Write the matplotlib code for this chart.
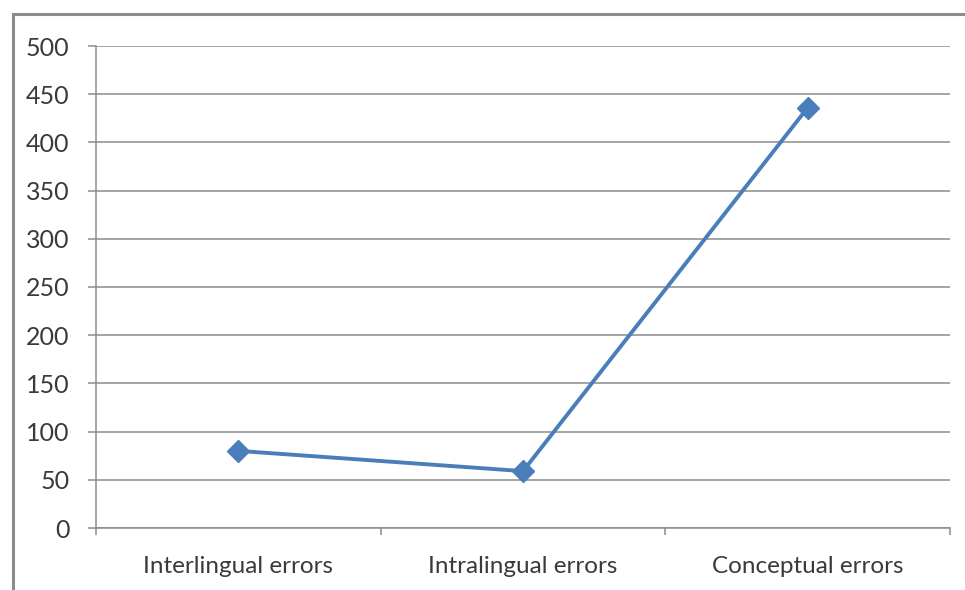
import matplotlib
matplotlib.use("Agg")
import matplotlib.pyplot as plt
from matplotlib.patches import Rectangle

categories = ["Interlingual errors", "Intralingual errors", "Conceptual errors"]
counts = [80, 59, 436]
y_ticks = [0, 50, 100, 150, 200, 250, 300, 350, 400, 450, 500]

plt.rcParams["font.family"] = ["Lato", "DejaVu Sans"]

fig = plt.figure(figsize=(9.65, 5.9), dpi=100)
ax = fig.add_axes([96 / 965, 1 - 528 / 590, (950 - 96) / 965, (528 - 46) / 590])

# outer chart frame
fig.patches.append(Rectangle((13 / 965, -0.1), 1.2, 1 - 14 / 590 + 0.1,
                             transform=fig.transFigure, fill=False,
                             edgecolor="#8c8c8c", linewidth=2.2, zorder=0))

x = list(range(len(categories)))
ax.plot(x, counts, color="#4a7ebb", linewidth=2.8, marker="D",
        markersize=11, markerfacecolor="#4a7ebb", markeredgecolor="#4a7ebb",
        zorder=3, clip_on=False)

ax.set_xlim(-0.5, len(categories) - 0.5)
ax.set_ylim(0, 500)
ax.set_yticks(y_ticks)
ax.set_yticklabels([str(v) for v in y_ticks], fontsize=18, color="#3a3a3a")
ax.grid(axis="y", color="#8c8c8c", linewidth=1.1)
ax.set_axisbelow(True)

# category ticks sit on the boundaries, labels at the centres
ax.set_xticks([i - 0.5 for i in range(len(categories) + 1)])
ax.set_xticklabels([])
ax.set_xticks(x, minor=True)
ax.set_xticklabels(categories, minor=True, fontsize=17.5, color="#3a3a3a")
ax.tick_params(axis="x", which="major", length=5, color="#8c8c8c", width=1.1)
ax.tick_params(axis="x", which="minor", length=0, pad=20)
ax.tick_params(axis="y", length=6, color="#8c8c8c", width=1.1, pad=13)

for side in ("top", "right"):
    ax.spines[side].set_visible(False)
for side in ("left", "bottom"):
    ax.spines[side].set_color("#8c8c8c")
    ax.spines[side].set_linewidth(1.1)

fig.savefig("out.png", dpi=100)
